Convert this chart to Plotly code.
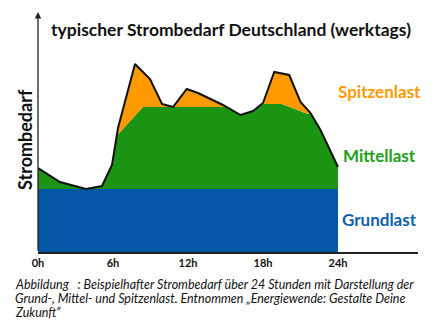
import plotly.graph_objects as go

# hours and total demand (black line)
hours_total = [0, 1.76, 3.84, 5.12, 5.92, 6.4, 7.76, 8.96, 9.92, 10.8, 11.9, 12.8, 13.8, 14.8,
               16.2, 17.2, 18.0, 18.9, 20.1, 21.0, 21.8, 22.6, 24]
total = [84, 70, 63, 66, 87, 124, 188, 173, 148, 145, 163, 159, 153, 147,
         137, 141, 149, 180, 177, 150, 139, 122, 85]

# medium load (top of green)
hours_mittel = [0, 1.76, 3.84, 5.12, 5.92, 6.35, 8.4, 15.2, 16.2, 17.2, 18.0, 19.5, 21.6, 21.8, 22.6, 24]
mittel = [84, 70, 63, 66, 87, 117, 145, 145, 137, 141, 148, 148, 138, 139, 122, 85]

# base load
hours_grund = [0, 24]
grund = [63, 63]

tick_vals = [0, 6, 12, 18, 24]
tick_text = ["0h", "6h", "12h", "18h", "24h"]

BLUE = "#0456A6"
GREEN = "#1B9313"
ORANGE = "#FF9900"

fig = go.Figure()
fig.add_trace(go.Scatter(x=hours_grund, y=grund, mode="lines", line=dict(width=0),
                         fill="tozeroy", fillcolor=BLUE, hoverinfo="skip"))
fig.add_trace(go.Scatter(x=hours_mittel, y=mittel, mode="lines", line=dict(width=0),
                         fill="tonexty", fillcolor=GREEN, hoverinfo="skip"))
fig.add_trace(go.Scatter(x=hours_total, y=total, mode="lines", line=dict(width=0),
                         fill="tonexty", fillcolor=ORANGE, hoverinfo="skip"))
fig.add_trace(go.Scatter(x=hours_total, y=total, mode="lines",
                         line=dict(color="#111111", width=2), hoverinfo="skip"))

font_bold = "Lato"

fig.update_layout(
    width=437, height=331,
    margin=dict(l=38, r=19, t=12, b=79),
    paper_bgcolor="white", plot_bgcolor="white",
    showlegend=False,
    xaxis=dict(range=[0, 30.4], tickvals=tick_vals, ticktext=tick_text,
               showgrid=False, zeroline=False, showline=True, linecolor="#222222", linewidth=1.5,
               ticks="", tickfont=dict(family=font_bold, size=11, color="#111111", weight="bold")),
    yaxis=dict(range=[0, 240], showgrid=False, zeroline=False, showline=False,
               showticklabels=False, ticks=""),
)

# y axis arrow
fig.add_annotation(x=0, y=240, ax=0, ay=0, xref="x", yref="y", axref="x", ayref="y",
                   showarrow=True, arrowhead=2, arrowsize=1, arrowwidth=1.3, arrowcolor="#222222",
                   text="")

fig.add_annotation(text="<b>typischer Strombedarf Deutschland (werktags)</b>",
                   xref="paper", yref="paper", x=(231 - 38) / 380, y=(252 - 30) / 240,
                   xanchor="center", yanchor="middle",
                   showarrow=False, font=dict(family=font_bold, size=17.5, color="#111111"))
fig.add_annotation(text="<b>Strombedarf</b>", textangle=-90,
                   xref="paper", yref="paper", x=(25 - 38) / 380, y=(252 - 140) / 240,
                   xanchor="center", yanchor="middle",
                   showarrow=False, font=dict(family=font_bold, size=18, color="#111111"))

labels = [("Spitzenlast", ORANGE, 91), ("Mittellast", "#22A01A", 155), ("Grundlast", "#0E5FAE", 219)]
for txt, col, ypx in labels:
    fig.add_annotation(text="<b>" + txt + "</b>", xref="paper", yref="paper",
                       x=(379 - 38) / 380, y=(252 - ypx) / 240, showarrow=False,
                       xanchor="center", yanchor="middle",
                       font=dict(family=font_bold, size=17, color=col))

caption = [
    "Abbildung   : Beispielhafter Strombedarf über 24 Stunden mit Darstellung der",
    "Grund-, Mittel- und Spitzenlast. Entnommen „Energiewende: Gestalte Deine",
    "Zukunft“",
]
for i, line in enumerate(caption):
    ypx = 284 + i * 14
    fig.add_annotation(text="<i>" + line + "</i>", xref="paper", yref="paper",
                       x=(13 - 38) / 380, y=(252 - ypx) / 240, xanchor="left", yanchor="middle",
                       showarrow=False, font=dict(family=font_bold, size=12.5, color="#111111"))

fig.write_html("out.html")
